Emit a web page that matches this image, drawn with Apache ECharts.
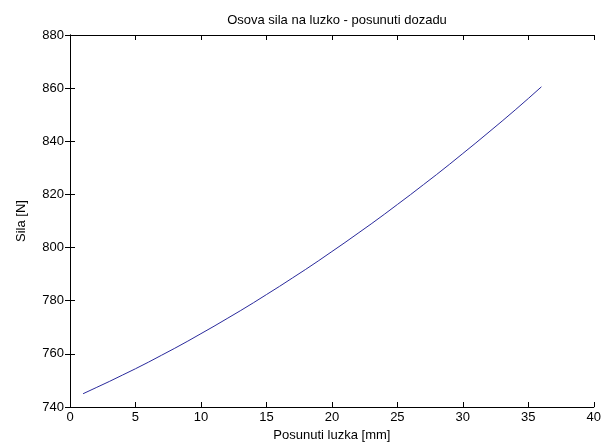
<!DOCTYPE html>
<html>
<head>
<meta charset="utf-8">
<script src="https://cdn.jsdelivr.net/npm/echarts@6/dist/echarts.min.js"></script>
<style>
html, body { margin: 0; padding: 0; background: #fff; }
#chart { width: 604px; height: 448px; }
</style>
</head>
<body>
<div id="chart"></div>
<script>
// posunuti luzka [mm]
var posunuti = [1, 2, 3, 4, 5, 6, 7, 8, 9, 10, 11, 12, 13, 14, 15, 16, 17, 18,
    19, 20, 21, 22, 23, 24, 25, 26, 27, 28, 29, 30, 31, 32, 33, 34, 35, 36];
// sila [N]
var sila = [745.0, 747.3, 749.6, 752.0, 754.4, 756.9, 759.5, 762.1, 764.8, 767.6,
    770.4, 773.3, 776.2, 779.2, 782.3, 785.4, 788.6, 791.8, 795.1, 798.5,
    801.9, 805.4, 808.9, 812.5, 816.2, 819.9, 823.7, 827.5, 831.4, 835.4,
    839.4, 843.5, 847.6, 851.8, 856.1, 860.5];

var chart = echarts.init(document.getElementById('chart'));

var font = 'Liberation Sans, Arial, sans-serif';
var axisLine = { show: true, lineStyle: { color: '#000', width: 1 } };
var tick = { show: true, inside: true, length: 5, lineStyle: { color: '#000' } };

var data = posunuti.map(function (x, i) { return [x, sila[i]]; });

chart.setOption({
    animation: false,
    backgroundColor: '#fff',
    title: {
        text: 'Osova sila na luzko - posunuti dozadu',
        left: 332,
        textAlign: 'center',
        top: 9,
        textStyle: { fontFamily: font, fontSize: 13, fontWeight: 'normal', color: '#000' }
    },
    grid: { left: 70, right: 9, top: 35, bottom: 41 },
    xAxis: [{
        type: 'value', min: 0, max: 40, interval: 5,
        name: 'Posunuti luzka [mm]', nameLocation: 'middle', nameGap: 22,
        nameTextStyle: { fontFamily: font, fontSize: 13, color: '#000' },
        axisLine: axisLine, axisTick: tick,
        axisLabel: { fontFamily: font, fontSize: 13, color: '#000', margin: 4 },
        splitLine: { show: false }
    }, {
        type: 'value', min: 0, max: 40, interval: 5, position: 'top',
        axisLine: axisLine, axisTick: tick, axisLabel: { show: false },
        splitLine: { show: false }
    }],
    yAxis: [{
        type: 'value', min: 740, max: 880, interval: 20,
        name: 'Sila [N]', nameLocation: 'middle', nameGap: 42,
        nameTextStyle: { fontFamily: font, fontSize: 13, color: '#000' },
        axisLine: axisLine, axisTick: tick,
        axisLabel: { fontFamily: font, fontSize: 13, color: '#000', margin: 6 },
        splitLine: { show: false }
    }, {
        type: 'value', min: 740, max: 880, interval: 20, position: 'right',
        axisLine: axisLine, axisTick: tick, axisLabel: { show: false },
        splitLine: { show: false }
    }],
    series: [{
        type: 'line',
        data: data,
        showSymbol: false,
        lineStyle: { color: '#2a2a9c', width: 1 }
    }]
});
</script>
</body>
</html>
